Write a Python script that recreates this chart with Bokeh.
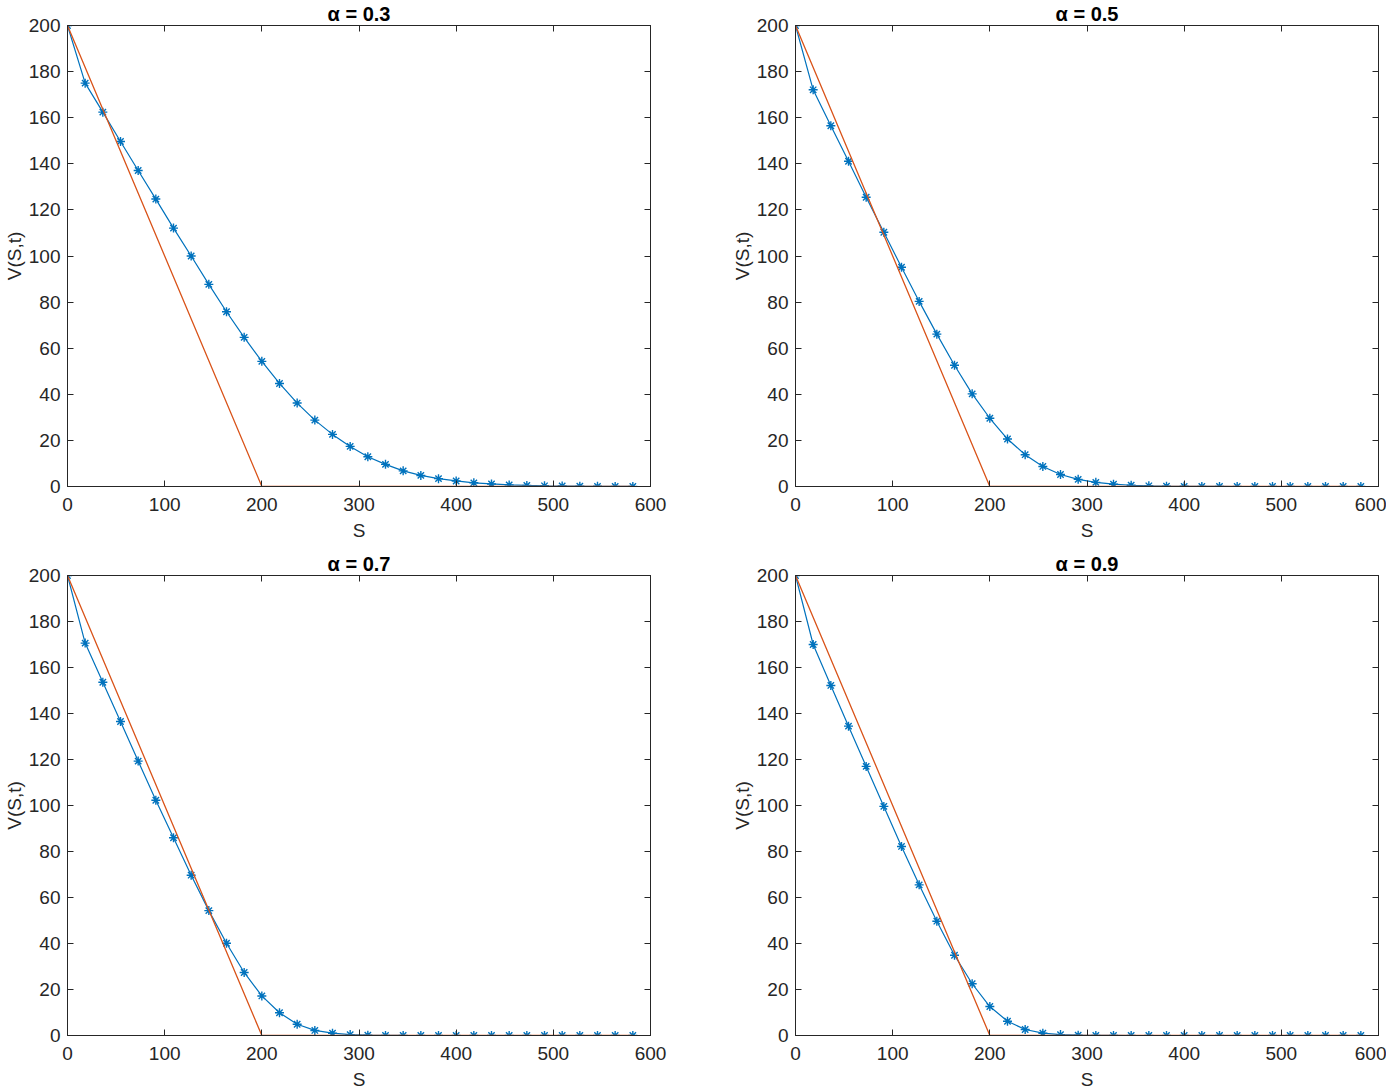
from bokeh.plotting import figure
from bokeh.layouts import column, row
from bokeh.models import LinearAxis, Range1d, FixedTicker
from bokeh.embed import file_html
from bokeh.resources import INLINE

# Asset price grid (33 nodes)
S = [0.0, 18.18, 36.36, 54.55, 72.73, 90.91, 109.09, 127.27, 145.45, 163.64,
     181.82, 200.0, 218.18, 236.36, 254.55, 272.73, 290.91, 309.09, 327.27,
     345.45, 363.64, 381.82, 400.0, 418.18, 436.36, 454.55, 472.73, 490.91,
     509.09, 527.27, 545.45, 563.64, 581.82]

V_a03 = [200.0, 175.0, 162.4, 149.7, 137.1, 124.7, 112.1, 100.0, 87.7, 75.8,
         64.7, 54.3, 44.7, 36.2, 28.8, 22.6, 17.4, 12.9, 9.6, 6.8,
         4.8, 3.4, 2.4, 1.6, 1.1, 0.7, 0.45, 0.3, 0.2, 0.12,
         0.08, 0.05, 0.03]
V_a05 = [200.0, 172.1, 156.5, 141.1, 125.5, 110.3, 95.1, 80.3, 66.1, 52.6,
         40.2, 29.6, 20.6, 13.8, 8.7, 5.2, 3.1, 1.8, 1.0, 0.55,
         0.3, 0.15, 0.08, 0.04, 0.02, 0.01, 0.0, 0.0, 0.0, 0.0,
         0.0, 0.0, 0.0]
V_a07 = [200.0, 170.6, 153.6, 136.5, 119.3, 102.3, 86.0, 69.7, 54.3, 40.1,
         27.4, 17.2, 9.9, 4.9, 2.2, 1.0, 0.4, 0.15, 0.05, 0.02,
         0.0, 0.0, 0.0, 0.0, 0.0, 0.0, 0.0, 0.0, 0.0, 0.0,
         0.0, 0.0, 0.0]
V_a09 = [200.0, 170.0, 152.2, 134.5, 117.0, 99.6, 82.2, 65.5, 49.7, 34.9,
         22.5, 12.6, 6.2, 2.6, 1.0, 0.4, 0.15, 0.05, 0.02, 0.0,
         0.0, 0.0, 0.0, 0.0, 0.0, 0.0, 0.0, 0.0, 0.0, 0.0,
         0.0, 0.0, 0.0]

# Payoff max(K - S, 0) kink points
payoff_S = [0.0, 200.0, 581.82]
payoff_V = [200.0, 0.0, 0.0]

alphas = ["0.3", "0.5", "0.7", "0.9"]
series = [V_a03, V_a05, V_a07, V_a09]

x_ticks = [0, 100, 200, 300, 400, 500, 600]
y_ticks = [0, 20, 40, 60, 80, 100, 120, 140, 160, 180, 200]

BLUE = "#0072BD"
ORANGE = "#D95319"
AX = "#262626"
FONT = "Liberation Sans"


def make(alpha, V, left_border, top_border, bottom_border, right_border, fh):
    p = figure(frame_width=583, frame_height=fh,
               x_range=Range1d(0, 600), y_range=Range1d(0, 200),
               output_backend="svg", toolbar_location=None,
               min_border_left=left_border, min_border_right=right_border,
               min_border_top=top_border, min_border_bottom=bottom_border,
               x_axis_label="S", y_axis_label="V(S,t)")
    p.title.text = "\u03b1 = " + alpha
    p.title.align = "center"
    p.title.text_font = FONT
    p.title.text_font_size = "20px"
    p.title.text_font_style = "bold"
    p.title.text_color = "black"
    p.title.standoff = 1
    p.title.offset = 0
    p.xgrid.visible = False
    p.ygrid.visible = False
    p.outline_line_color = AX
    p.outline_line_width = 1
    p.background_fill_color = "white"
    p.border_fill_color = "white"

    for ax, ticks in ((p.xaxis[0], x_ticks), (p.yaxis[0], y_ticks)):
        ax.ticker = FixedTicker(ticks=ticks)
        ax.major_tick_in = 6
        ax.major_tick_out = 0
        ax.minor_tick_in = 0
        ax.minor_tick_out = 0
        ax.axis_line_color = AX
        ax.major_tick_line_color = AX
        ax.major_label_text_font = FONT
        ax.major_label_text_font_size = "19px"
        ax.major_label_text_color = AX
        ax.axis_label_text_font = FONT
        ax.axis_label_text_font_size = "19px"
        ax.axis_label_text_font_style = "normal"
        ax.axis_label_text_color = AX
    p.xaxis[0].major_label_standoff = 11
    p.xaxis[0].axis_label_standoff = 6
    p.yaxis[0].major_label_standoff = 7
    p.yaxis[0].axis_label_standoff = 1

    # box ticks on top and right (no labels)
    for loc, ticks in (("above", x_ticks), ("right", y_ticks)):
        a = LinearAxis(ticker=FixedTicker(ticks=ticks))
        a.major_tick_in = 6
        a.major_tick_out = 0
        a.minor_tick_in = 0
        a.minor_tick_out = 0
        a.axis_line_color = AX
        a.major_tick_line_color = AX
        a.major_label_overrides = {t: "" for t in ticks}
        a.major_label_standoff = 0
        p.add_layout(a, loc)

    p.line(S, V, line_color=BLUE, line_width=1.2)
    p.scatter(S, V, marker="asterisk", size=9, line_color=BLUE, line_width=1.4)
    p.line(payoff_S, payoff_V, line_color=ORANGE, line_width=1.3)
    return p


p1 = make(alphas[0], series[0], 59, 20, 50, 70, 461)
p2 = make(alphas[1], series[1], 75, 20, 50, 8, 461)
p3 = make(alphas[2], series[2], 59, 32, 50, 70, 460)
p4 = make(alphas[3], series[3], 75, 32, 50, 8, 460)

layout = column(row(p1, p2, spacing=0), row(p3, p4, spacing=0), spacing=0)

open("out.html", "w").write(file_html(layout, INLINE))
